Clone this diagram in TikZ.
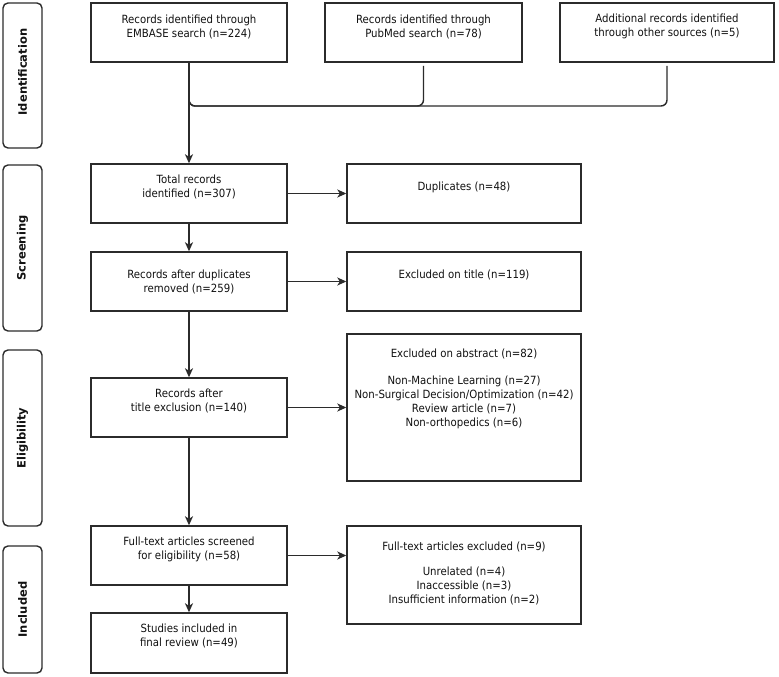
\documentclass[tikz,border=0pt]{standalone}
\usepackage{fontspec}
\setmainfont{DejaVu Sans}
\newfontfamily\boxfont{DejaVu Sans}[FakeStretch=0.9]
\usetikzlibrary{arrows.meta}
\definecolor{linec}{HTML}{2B2B2B}
\definecolor{textc}{HTML}{111111}
\tikzset{
  box/.style={draw=linec, line width=1.4pt, fill=white, inner sep=0pt},
  phase/.style={draw=linec, line width=1.4pt, rounded corners=5pt, inner sep=0pt, minimum width=39pt},
  phasetxt/.style={rotate=90, font=\fontsize{11.5}{13}\selectfont\bfseries, text=textc, inner sep=0pt},
  txt/.style={align=center, font=\boxfont\fontsize{11.3}{14}\selectfont, text=textc, inner sep=0pt},
  conn/.style={draw=linec, line width=1.4pt, -{Stealth[length=9pt,width=8pt,inset=2.5pt]}},
  joinl/.style={draw=linec, line width=1.4pt, rounded corners=6pt}
}
\begin{document}
\begin{tikzpicture}[x=1pt,y=-1pt]
\useasboundingbox (0,0) rectangle (779,677);
% phase labels
\node[phase, minimum height=145pt] (pid) at (22.5,75.5) {};
\node[phasetxt] (pidt) at (22.5,72) {Identification};
\node[phase, minimum height=166pt] (psc) at (22.5,248) {};
\node[phasetxt] (psct) at (22.5,248) {Screening};
\node[phase, minimum height=176pt] (pel) at (22.5,438) {};
\node[phasetxt] (pelt) at (22.5,438) {Eligibility};
\node[phase, minimum height=127pt] (pin) at (22.5,609.5) {};
\node[phasetxt] (pint) at (22.5,609.5) {Included};
% top boxes
\node[box, minimum width=196pt, minimum height=59pt] (emb) at (189,32.5) {};
\node[txt] (embt) at (189,26.5) {Records identified through\\EMBASE search (n=224)};
\node[box, minimum width=197pt, minimum height=59pt] (pub) at (423.5,32.5) {};
\node[txt] (pubt) at (423.5,26.5) {Records identified through\\PubMed search (n=78)};
\node[box, minimum width=214pt, minimum height=59pt] (add) at (667,32.5) {};
\node[txt] (addt) at (667,26.5) {Additional records identified\\through other sources (n=5)};
% main column
\node[box, minimum width=196pt, minimum height=59pt] (tot) at (189,193.5) {};
\node[txt] (tott) at (189,187) {Total records\\identified (n=307)};
\node[box, minimum width=196pt, minimum height=59pt] (dup) at (189,281.5) {};
\node[txt] (dupt) at (189,281.5) {Records after duplicates\\removed (n=259)};
\node[box, minimum width=196pt, minimum height=59pt] (tex) at (189,407.5) {};
\node[txt] (text) at (189,401) {Records after\\title exclusion (n=140)};
\node[box, minimum width=196pt, minimum height=59pt] (fts) at (189,555.5) {};
\node[txt] (ftst) at (189,549.5) {Full-text articles screened\\for eligibility (n=58)};
\node[box, minimum width=196pt, minimum height=60pt] (inc) at (189,643) {};
\node[txt] (inct) at (189,636) {Studies included in\\final review (n=49)};
% right column
\node[box, minimum width=234pt, minimum height=59pt] (dpl) at (464,193.5) {};
\node[txt] (dplt) at (464,187) {Duplicates (n=48)};
\node[box, minimum width=234pt, minimum height=59pt] (ext) at (464,281.5) {};
\node[txt] (extt) at (464,275) {Excluded on title (n=119)};
\node[box, minimum width=234pt, minimum height=147pt] (exa) at (464,407.5) {};
\node[txt, anchor=north] (exat) at (464,348.5) {Excluded on abstract (n=82)\\[13pt]Non-Machine Learning (n=27)\\Non-Surgical Decision/Optimization (n=42)\\Review article (n=7)\\Non-orthopedics (n=6)};
\node[box, minimum width=234pt, minimum height=98pt] (fte) at (464,575) {};
\node[txt, anchor=north] (ftet) at (464,541.5) {Full-text articles excluded (n=9)\\[11pt]Unrelated (n=4)\\Inaccessible (n=3)\\Insufficient information (n=2)};
% connectors
\coordinate (pubs) at (423.5,66);
\coordinate (adds) at (667,66);
\coordinate (j1) at (189,106);
\draw[joinl] (pubs) |- (j1) -- ([yshift=20pt]j1);
\draw[joinl] (adds) |- (j1) -- ([yshift=20pt]j1);
\draw[conn] (emb.south) -- (tot.north);
\draw[conn] (tot.south) -- (dup.north);
\draw[conn] (dup.south) -- (tex.north);
\draw[conn] (tex.south) -- (fts.north);
\draw[conn] (fts.south) -- (inc.north);
\draw[conn] (tot.east) -- (dpl.west);
\draw[conn] (dup.east) -- (ext.west);
\draw[conn] (tex.east) -- (exa.west);
\draw[conn] (fts.east) -- (fte.west |- fts.east);
\end{tikzpicture}
\end{document}
